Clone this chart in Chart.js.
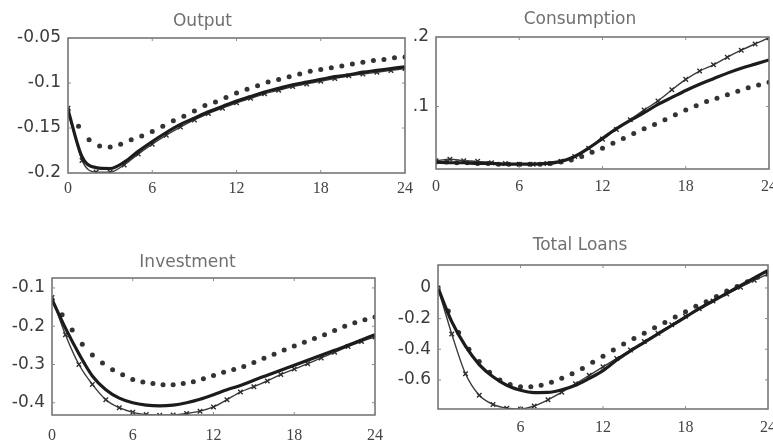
<!DOCTYPE html>
<html>
<head>
<meta charset="utf-8">
<title>Impulse responses</title>
<script src="https://cdn.jsdelivr.net/npm/chart.js@4.4.1/dist/chart.umd.min.js"></script>
<style>
  html, body { margin: 0; padding: 0; background: #fff; }
  body { width: 773px; height: 440px; overflow: hidden; position: relative; }
  canvas { position: absolute; }
</style>
</head>
<body>
<canvas id="cOutput" width="420" height="215" style="left:0px;top:0px"></canvas>
<canvas id="cCons" width="395" height="215" style="left:390px;top:0px"></canvas>
<canvas id="cInv" width="420" height="230" style="left:0px;top:225px"></canvas>
<canvas id="cLoans" width="395" height="230" style="left:390px;top:225px"></canvas>
<script>
// horizons (quarters)
var periods = [0,1,2,3,4,5,6,7,8,9,10,11,12,13,14,15,16,17,18,19,20,21,22,23,24];
var dotPeriods = [0,0.75,1.5,2.25,3,3.75,4.5,5.25,6,6.75,7.5,8.25,9,9.75,10.5,11.25,12,12.75,13.5,14.25,15,15.75,16.5,17.25,18,18.75,19.5,20.25,21,21.75,22.5,23.25,24];
var xTicks = [0, 6, 12, 18, 24];
var xTicksLoans = [6, 12, 18, 24];

// Output
var outputSolid = [-0.130,-0.182,-0.194,-0.195,-0.188,-0.176,-0.165,-0.155,-0.146,-0.139,-0.132,-0.126,-0.120,-0.115,-0.110,-0.106,-0.102,-0.099,-0.096,-0.093,-0.091,-0.088,-0.086,-0.084,-0.082];
var outputCross = [-0.128,-0.186,-0.199,-0.199,-0.191,-0.179,-0.168,-0.158,-0.149,-0.141,-0.134,-0.128,-0.122,-0.117,-0.112,-0.108,-0.104,-0.101,-0.098,-0.095,-0.092,-0.090,-0.088,-0.086,-0.084];
var outputDots = [-0.130,-0.148,-0.163,-0.170,-0.171,-0.168,-0.163,-0.159,-0.154,-0.148,-0.142,-0.137,-0.131,-0.125,-0.121,-0.116,-0.111,-0.107,-0.103,-0.099,-0.096,-0.093,-0.090,-0.087,-0.085,-0.083,-0.081,-0.079,-0.077,-0.075,-0.074,-0.072,-0.071];
var outputTicks = [-0.2, -0.15, -0.1, -0.05];
var outputTickLabels = ['-0.2', '-0.15', '-0.1', '-0.05'];

// Consumption
var consSolid = [0.020,0.019,0.019,0.018,0.018,0.017,0.017,0.017,0.018,0.021,0.028,0.040,0.054,0.068,0.080,0.091,0.103,0.113,0.123,0.132,0.140,0.148,0.155,0.161,0.167];
var consCross = [0.022,0.024,0.022,0.021,0.019,0.018,0.017,0.017,0.018,0.021,0.028,0.040,0.053,0.067,0.081,0.095,0.108,0.124,0.139,0.151,0.160,0.171,0.181,0.190,0.199];
var consDots = [0.020,0.020,0.019,0.019,0.018,0.018,0.017,0.017,0.017,0.017,0.017,0.018,0.020,0.023,0.028,0.034,0.040,0.047,0.054,0.061,0.068,0.074,0.081,0.088,0.095,0.101,0.107,0.112,0.117,0.122,0.127,0.131,0.135];
var consTicks = [0.1, 0.2];
var consTickLabels = ['.1', '.2'];

// Investment
var invSolid = [-0.130,-0.205,-0.272,-0.330,-0.366,-0.388,-0.400,-0.406,-0.408,-0.406,-0.400,-0.391,-0.379,-0.366,-0.355,-0.341,-0.328,-0.315,-0.302,-0.289,-0.276,-0.263,-0.250,-0.236,-0.222];
var invCross = [-0.125,-0.222,-0.300,-0.352,-0.392,-0.413,-0.425,-0.431,-0.433,-0.432,-0.428,-0.422,-0.411,-0.392,-0.372,-0.358,-0.343,-0.326,-0.312,-0.298,-0.283,-0.268,-0.253,-0.240,-0.228];
var invDots = [-0.130,-0.170,-0.210,-0.247,-0.275,-0.296,-0.314,-0.327,-0.339,-0.346,-0.350,-0.353,-0.353,-0.350,-0.345,-0.337,-0.329,-0.320,-0.313,-0.305,-0.295,-0.284,-0.273,-0.262,-0.252,-0.242,-0.232,-0.222,-0.211,-0.200,-0.191,-0.183,-0.176];
var invTicks = [-0.4, -0.3, -0.2, -0.1];
var invTickLabels = ['-0.4', '-0.3', '-0.2', '-0.1'];

// Total Loans
var loansSolid = [0.00,-0.22,-0.38,-0.50,-0.58,-0.635,-0.668,-0.683,-0.682,-0.665,-0.635,-0.59,-0.54,-0.47,-0.41,-0.355,-0.30,-0.245,-0.19,-0.135,-0.085,-0.035,0.015,0.065,0.115];
var loansCross = [0.00,-0.30,-0.56,-0.70,-0.76,-0.785,-0.79,-0.77,-0.73,-0.68,-0.625,-0.57,-0.515,-0.46,-0.405,-0.35,-0.295,-0.24,-0.185,-0.135,-0.085,-0.04,0.005,0.05,0.09];
var loansDots = [0.00,-0.15,-0.29,-0.40,-0.48,-0.55,-0.60,-0.63,-0.645,-0.645,-0.635,-0.615,-0.59,-0.56,-0.525,-0.485,-0.445,-0.405,-0.365,-0.33,-0.295,-0.26,-0.225,-0.19,-0.155,-0.12,-0.09,-0.055,-0.02,0.01,0.04,0.07,0.10];
var loansTicks = [-0.6, -0.4, -0.2, 0];
var loansTickLabels = ['-0.6', '-0.4', '-0.2', '0'];

function pairs(xs, ys) {
	return ys.map(function(v, i){ return { x: xs[i], y: v }; });
}

// box round the plot area, with short inward ticks
var boxFrame = {
	id: 'boxFrame',
	afterDatasetsDraw: function(chart) {
		var a = chart.chartArea, ctx = chart.ctx;
		ctx.save();
		ctx.strokeStyle = '#6e6e6e';
		ctx.lineWidth = 1.5;
		ctx.strokeRect(a.left, a.top, a.right - a.left, a.bottom - a.top);
		ctx.lineWidth = 1;
		ctx.strokeStyle = '#8a8a8a';
		ctx.beginPath();
		chart.scales.x.ticks.forEach(function(t){
			var px = chart.scales.x.getPixelForValue(t.value);
			ctx.moveTo(px, a.top); ctx.lineTo(px, a.top + 3);
			ctx.moveTo(px, a.bottom); ctx.lineTo(px, a.bottom - 3);
		});
		chart.scales.y.ticks.forEach(function(t){
			var py = chart.scales.y.getPixelForValue(t.value);
			ctx.moveTo(a.left, py); ctx.lineTo(a.left + 3, py);
			ctx.moveTo(a.right, py); ctx.lineTo(a.right - 3, py);
		});
		ctx.stroke();
		ctx.restore();
	}
};

function makePanel(id, p) {
	return new Chart(document.getElementById(id), {
		type: 'line',
		data: {
			datasets: [{
				label: 'baseline',
				data: pairs(periods, p.solid),
				borderColor: '#1c1c1c',
				borderWidth: 3.2,
				pointRadius: 0,
				cubicInterpolationMode: 'monotone'
			}, {
				label: 'crosses',
				data: pairs(periods, p.cross),
				borderColor: '#3a3a3a',
				borderWidth: 1.4,
				pointStyle: 'crossRot',
				pointRadius: 3.2,
				pointBorderWidth: 1.4,
				pointBorderColor: '#2e2e2e',
				cubicInterpolationMode: 'monotone'
			}, {
				label: 'dots',
				data: pairs(dotPeriods, p.dots),
				showLine: false,
				pointStyle: 'circle',
				pointRadius: 2.5,
				pointBorderWidth: 0,
				pointBackgroundColor: '#333'
			}]
		},
		options: {
			responsive: false,
			animation: false,
			devicePixelRatio: 1,
			layout: { padding: { left: 0, top: 0, bottom: 0, right: p.padRight } },
			plugins: {
				legend: { display: false },
				tooltip: { enabled: false },
				title: {
					display: true,
					text: p.title,
					color: '#707070',
					font: { family: 'DejaVu Sans', size: 17, weight: 'normal', lineHeight: 1.2 },
					padding: { top: p.titleTop, bottom: p.titleBottom }
				}
			},
			scales: {
				x: {
					type: 'linear',
					min: 0, max: 24,
					grid: { display: false, drawTicks: false },
					border: { display: false },
					afterBuildTicks: function(s){ s.ticks = p.xTicks.map(function(v){ return { value: v }; }); },
					afterFit: function(s){ s.height = p.xHeight; },
					ticks: {
						autoSkip: false, maxRotation: 0,
						padding: p.xPad,
						color: '#444',
						font: { family: 'Liberation Serif', size: 16 }
					}
				},
				y: {
					min: p.yMin, max: p.yMax,
					grid: { display: false, drawTicks: false },
					border: { display: false },
					afterBuildTicks: function(s){ s.ticks = p.yTicks.map(function(v){ return { value: v }; }); },
					afterFit: function(s){ s.width = p.yWidth; },
					ticks: {
						padding: 7,
						color: '#3c3c3c',
						font: { family: 'DejaVu Sans', size: 17 },
						callback: function(v){
							var i = p.yTicks.indexOf(v);
							return i >= 0 ? p.yLabels[i] : '';
						}
					}
				}
			}
		},
		plugins: [boxFrame]
	});
}

makePanel('cOutput', {
	title: 'Output', solid: outputSolid, cross: outputCross, dots: outputDots,
	yMin: -0.2, yMax: -0.05, yTicks: outputTicks, yLabels: outputTickLabels, xTicks: xTicks,
	yWidth: 68, xHeight: 42, padRight: 15, titleTop: 11.8, titleBottom: 5.8, xPad: 6
});
makePanel('cCons', {
	title: 'Consumption', solid: consSolid, cross: consCross, dots: consDots,
	yMin: 0.01, yMax: 0.2, yTicks: consTicks, yLabels: consTickLabels, xTicks: xTicks,
	yWidth: 46, xHeight: 46, padRight: 15, titleTop: 9.8, titleBottom: 6.8, xPad: 8
});
makePanel('cInv', {
	title: 'Investment', solid: invSolid, cross: invCross, dots: invDots,
	yMin: -0.432, yMax: -0.074, yTicks: invTicks, yLabels: invTickLabels, xTicks: xTicks,
	yWidth: 52, xHeight: 40, padRight: 45, titleTop: 27.8, titleBottom: 4.8, xPad: 11
});
makePanel('cLoans', {
	title: 'Total Loans', solid: loansSolid, cross: loansCross, dots: loansDots,
	yMin: -0.79, yMax: 0.15, yTicks: loansTicks, yLabels: loansTickLabels, xTicks: xTicksLoans,
	yWidth: 48, xHeight: 46, padRight: 15, titleTop: 10.8, titleBottom: 8.8, xPad: 9
});
</script>
</body>
</html>
